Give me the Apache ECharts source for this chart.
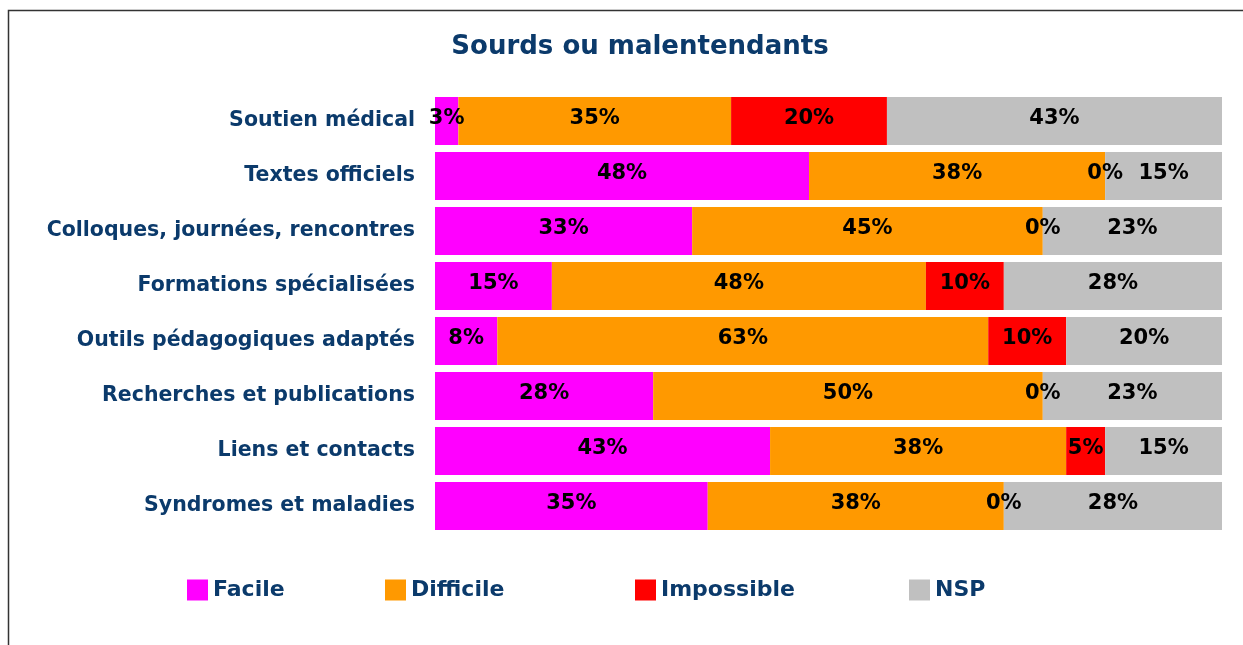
<!DOCTYPE html>
<html>
<head>
<meta charset="utf-8">
<script src="https://cdn.jsdelivr.net/npm/echarts@6/dist/echarts.min.js"></script>
<style>html,body{margin:0;padding:0;background:#fff;}#chart{width:1243px;height:645px;}</style>
</head>
<body>
<div id="chart"></div>
<script>
const categories = ["Soutien médical","Textes officiels","Colloques, journées, rencontres","Formations spécialisées","Outils pédagogiques adaptés","Recherches et publications","Liens et contacts","Syndromes et maladies"];
const facile     = [3, 48, 33, 15, 8, 28, 43, 35];
const difficile  = [35, 38, 45, 48, 63, 50, 38, 38];
const impossible = [20, 0, 0, 10, 10, 0, 5, 0];
const nsp        = [43, 15, 23, 28, 20, 23, 15, 28];
const seriesNames = ["Facile","Difficile","Impossible","NSP"];
const colors = ["#FF00FF","#FF9900","#FF0000","#C0C0C0"];
const navy = "#0B3A6B";

const chart = echarts.init(document.getElementById('chart'));
const dataSets = [facile, difficile, impossible, nsp];
const legendLefts = [182, 380, 630, 904];

chart.setOption({
  animation: false,
  backgroundColor: '#fff',
  graphic: [{
    type: 'rect', shape: {x: 8.5, y: 10.5, width: 1260, height: 700},
    style: {fill: 'none', stroke: '#333', lineWidth: 1.5}, silent: true
  }, {
    type: 'text', x: 640, y: 47, silent: true,
    style: {text: 'Sourds ou malentendants', align: 'center', verticalAlign: 'middle',
      fontFamily: 'DejaVu Sans', fontWeight: 'bold', fontSize: 26, fill: navy}
  }],
  legend: seriesNames.map((n, i) => ({
    data: [n], left: legendLefts[i], top: 574, itemWidth: 21, itemHeight: 21, icon: 'rect',
    textStyle: {fontFamily: 'DejaVu Sans', fontWeight: 'bold', fontSize: 22, color: navy}
  })),
  grid: {left: 435, right: 21, top: 93.5, bottom: 111.5, containLabel: false},
  xAxis: {type: 'value', min: 0, max: 101, show: false},
  yAxis: {
    type: 'category', data: categories, inverse: true,
    axisLine: {show: false}, axisTick: {show: false}, splitLine: {show: false},
    axisLabel: {margin: 20, fontFamily: 'DejaVu Sans', fontWeight: 'bold', fontSize: 20.5, color: navy}
  },
  series: dataSets.map((d, i) => ({
    name: seriesNames[i], type: 'bar', stack: 'total', data: d,
    barCategoryGap: '13%',
    itemStyle: {color: colors[i]},
    label: {show: true, position: 'inside', formatter: '{c}%', color: '#000',
      fontFamily: 'DejaVu Sans', fontWeight: 'bold', fontSize: 21, offset: [0, -2]}
  }))
});
</script>
</body>
</html>
